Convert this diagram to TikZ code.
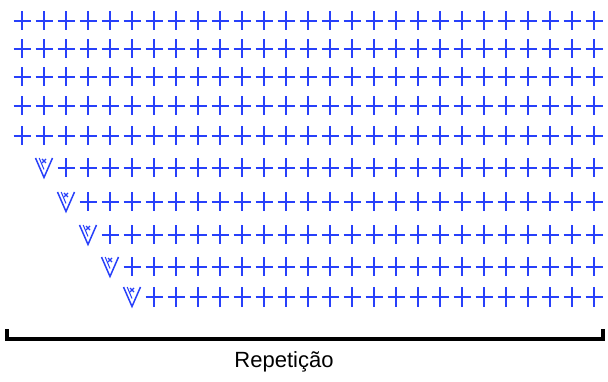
\documentclass[tikz,border=0pt]{standalone}
\usepackage{fontspec}
\setmainfont{Liberation Sans}
\definecolor{stitch}{RGB}{40,64,250}
\tikzset{
  plusmark/.pic={\draw[stitch,line width=2pt] (-8.5,0)--(8.5,0) (0,-9.5)--(0,9.5);},
  decmark/.pic={\draw[stitch,line width=1.5pt,line join=miter] (-8.5,-10)--(0,9.5)--(8.5,-10);
                \draw[stitch,line width=1pt] (-4.8,-10)--(0,1.5);
                \draw[stitch,line width=1.1pt] (-2,-9)--(2,-5) (-2,-5)--(2,-9);},
  bracket/.style={line width=3.6pt,line join=miter,black},
  label/.style={font=\fontsize{22}{26}\selectfont,inner sep=0pt}
}
\begin{document}
\begin{tikzpicture}[x=1pt,y=-1pt]
\useasboundingbox (0,0) rectangle (608,382);
% top rows: full width
\foreach \r/\yy in {1/21,2/49,3/77,4/106,5/136}{
  \foreach \c in {0,...,26}{
    \pic at ({22+\c*22},\yy) {plusmark};
  }
}
% lower rows: decrease symbol then pluses
\foreach \k/\yy in {1/168,2/202,3/235,4/267,5/297}{
  \pic at ({22+\k*22},\yy) {decmark};
  \pgfmathtruncatemacro{\st}{\k+1}
  \foreach \c in {\st,...,26}{
    \pic at ({22+\c*22},\yy) {plusmark};
  }
}
\coordinate (bl) at (7,329);
\coordinate (br) at (603,329);
\draw[bracket] (bl) -- ++(0,10) -| (br);
\node[label] (rep) at (284,362) {Repetição};
\end{tikzpicture}
\end{document}
